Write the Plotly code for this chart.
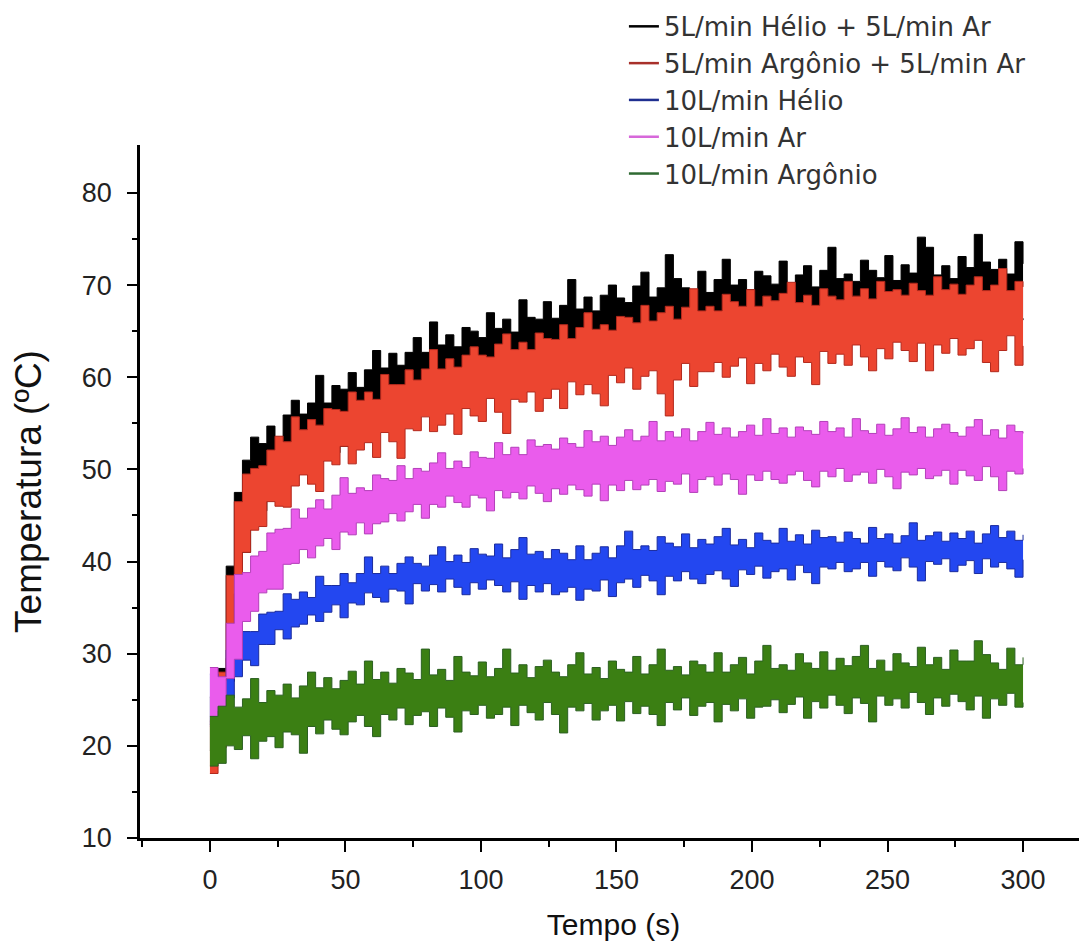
import plotly.graph_objects as go

# sampling step of the traced envelopes (seconds)
time_step = 3

series_names = [
    "5L/min Hélio + 5L/min Ar",
    "5L/min Argônio + 5L/min Ar",
    "10L/min Hélio",
    "10L/min Ar",
    "10L/min Argônio",
]

# upper / lower envelopes of each noisy temperature record (°C), read every 3 s
black_upper = [25.3, 28.4, 39.5, 47.5, 51.0, 53.5, 52.8, 54.7, 53.5, 55.9,
               57.5, 56.0, 57.2, 60.2, 57.2, 59.1, 58.7, 60.5, 58.9, 60.8,
               62.9, 61.0, 62.6, 61.3, 62.7, 64.3, 62.7, 66.0, 63.5, 64.6,
               63.3, 65.4, 65.0, 64.3, 67.0, 65.3, 66.3, 64.9, 68.4, 66.5,
               66.3, 68.2, 66.4, 67.8, 70.6, 67.4, 68.7, 67.2, 68.9, 70.0,
               68.6, 68.1, 69.9, 71.4, 68.7, 69.7, 73.3, 70.7, 69.7, 69.4,
               71.5, 69.2, 70.6, 72.8, 70.0, 70.6, 69.5, 71.5, 71.0, 70.1,
               72.6, 70.1, 71.1, 72.1, 69.8, 71.6, 74.1, 70.7, 71.2, 70.4,
               72.7, 71.6, 70.8, 73.2, 70.5, 72.2, 71.3, 75.2, 74.1, 71.1,
               72.1, 70.7, 73.1, 71.9, 75.5, 72.5, 71.7, 72.8, 71.2, 74.7,
               72.3]
black_lower = [19.5, 21.0, 27.0, 35.0, 41.0, 45.0, 45.5, 47.2, 48.0, 48.6,
               49.5, 49.8, 50.6, 50.9, 51.6, 51.8, 52.5, 52.6, 53.4, 53.5,
               54.2, 54.4, 55.1, 55.2, 56.0, 56.1, 56.7, 56.8, 57.5, 57.4,
               58.0, 58.1, 58.6, 58.5, 59.1, 59.0, 59.5, 59.4, 60.0, 59.9,
               60.3, 60.3, 60.8, 60.6, 61.2, 61.0, 61.6, 61.4, 62.0, 61.9,
               62.3, 62.3, 62.6, 62.5, 63.0, 62.8, 63.2, 63.1, 63.6, 63.4,
               63.8, 63.7, 64.1, 63.9, 64.3, 64.2, 64.5, 64.3, 64.6, 64.4,
               64.7, 64.6, 64.8, 64.7, 65.0, 64.9, 65.1, 65.0, 65.3, 65.1,
               65.4, 65.3, 65.5, 65.4, 65.6, 65.5, 65.7, 65.6, 65.8, 65.7,
               65.9, 65.8, 66.0, 65.9, 66.1, 66.0, 66.2, 66.1, 66.3, 66.2,
               66.4]
red_upper = [22.7, 28.0, 38.5, 46.5, 49.5, 50.1, 50.4, 52.1, 53.6, 53.0,
             55.7, 54.3, 55.4, 54.8, 56.6, 56.5, 56.3, 58.4, 57.5, 58.4,
             57.6, 60.3, 59.2, 59.2, 60.8, 59.7, 60.9, 63.0, 60.9, 62.0,
             61.1, 62.4, 63.3, 62.4, 62.2, 63.6, 64.7, 63.0, 63.8, 63.0,
             64.8, 64.2, 64.1, 65.7, 64.2, 65.4, 67.0, 65.2, 65.7, 65.1,
             66.6, 66.5, 65.9, 67.8, 66.1, 67.0, 67.7, 66.3, 67.6, 69.6,
             67.2, 67.7, 67.2, 69.0, 68.2, 67.7, 69.5, 67.7, 68.8, 68.3,
             69.1, 70.3, 68.1, 68.9, 67.8, 69.6, 68.8, 68.4, 70.4, 68.8,
             69.6, 68.5, 70.4, 69.3, 69.5, 68.9, 70.2, 69.4, 68.9, 70.9,
             69.5, 70.1, 69.0, 70.0, 70.9, 69.4, 70.0, 71.8, 69.4, 70.4,
             69.8]
red_lower = [17.0, 19.8, 29.5, 36.5, 41.0, 43.4, 43.8, 46.5, 46.0, 45.9,
             48.2, 49.4, 48.4, 47.6, 50.9, 50.5, 52.5, 50.6, 52.1, 52.9,
             51.3, 54.0, 53.0, 51.2, 54.4, 54.2, 55.7, 54.1, 54.8, 56.0,
             53.8, 56.6, 55.8, 55.2, 57.7, 56.2, 53.9, 57.6, 57.3, 58.4,
             56.3, 57.7, 58.7, 56.6, 59.5, 58.1, 59.2, 58.2, 56.9, 60.2,
             59.4, 61.0, 58.7, 60.1, 60.7, 58.2, 55.8, 59.7, 61.5, 59.0,
             60.6, 60.6, 61.6, 60.0, 61.2, 62.1, 59.3, 61.5, 60.7, 62.5,
             61.1, 60.1, 62.2, 61.6, 59.2, 62.8, 61.5, 62.5, 61.3, 63.5,
             62.2, 60.7, 63.1, 62.0, 63.8, 62.9, 61.7, 63.7, 60.7, 63.5,
             62.6, 64.2, 62.4, 63.1, 64.0, 61.6, 60.6, 62.9, 64.5, 61.3,
             63.4]
blue_upper = [27.8, 27.1, 30.4, 30.3, 32.4, 32.4, 34.3, 34.5, 34.6, 36.5,
              35.9, 36.7, 36.1, 38.4, 37.4, 37.4, 38.7, 37.7, 38.7, 40.5,
              38.7, 39.5, 38.7, 39.8, 40.5, 39.8, 39.5, 40.7, 41.6, 40.0,
              40.7, 39.9, 41.4, 40.8, 40.6, 41.9, 40.4, 41.3, 42.6, 40.8,
              41.1, 40.3, 41.3, 40.9, 40.2, 41.7, 40.2, 40.9, 41.6, 40.4,
              41.7, 43.3, 41.3, 41.7, 41.2, 42.7, 42.0, 41.6, 43.0, 41.5,
              42.4, 41.9, 42.7, 43.6, 41.8, 42.4, 41.5, 43.1, 42.3, 42.0,
              43.6, 42.2, 42.9, 41.9, 43.4, 42.6, 42.7, 42.1, 43.2, 42.5,
              42.0, 43.7, 42.5, 43.0, 42.0, 42.8, 44.2, 42.3, 42.8, 43.2,
              42.2, 43.1, 42.5, 43.3, 42.0, 43.0, 43.9, 42.6, 43.3, 42.3,
              42.9]
blue_lower = [22.3, 24.7, 25.2, 27.5, 29.3, 28.7, 31.0, 31.0, 32.6, 31.6,
              32.9, 33.2, 34.2, 33.5, 34.5, 35.3, 33.9, 35.5, 35.3, 36.6,
              36.1, 35.6, 37.0, 36.8, 35.4, 37.6, 36.8, 37.5, 36.7, 38.1,
              37.2, 36.4, 37.7, 37.0, 38.0, 37.4, 36.7, 37.8, 35.9, 37.4,
              36.7, 37.6, 36.4, 36.7, 37.2, 35.8, 37.0, 36.8, 38.0, 36.2,
              37.7, 38.1, 37.2, 38.5, 37.9, 36.4, 38.4, 37.9, 38.9, 38.1,
              37.6, 38.6, 39.0, 38.1, 37.3, 39.1, 38.6, 39.5, 38.2, 38.9,
              39.2, 38.0, 39.6, 38.8, 37.6, 39.4, 39.2, 39.9, 38.9, 39.2,
              39.9, 38.4, 40.0, 39.4, 39.0, 40.4, 39.4, 37.9, 40.0, 39.7,
              40.3, 38.9, 39.6, 40.1, 38.7, 40.3, 39.4, 39.9, 39.2, 38.3,
              40.2]
magenta_upper = [28.5, 27.5, 33.3, 38.6, 38.8, 40.6, 41.1, 43.1, 43.5, 43.6,
                 45.7, 44.7, 45.8, 46.7, 45.7, 47.2, 49.1, 47.4, 48.0, 47.7,
                 49.4, 49.0, 48.8, 50.4, 49.0, 50.1, 49.8, 50.7, 51.8, 50.1,
                 50.9, 50.2, 51.9, 51.3, 51.2, 52.9, 51.6, 52.4, 51.6, 53.2,
                 52.5, 52.7, 52.2, 53.4, 52.8, 52.4, 54.2, 53.0, 53.6, 52.6,
                 53.5, 54.3, 53.1, 53.6, 55.2, 53.1, 54.1, 53.5, 54.4, 53.1,
                 54.1, 55.1, 53.8, 54.5, 53.5, 54.1, 54.8, 53.7, 55.5, 53.9,
                 54.5, 53.5, 54.6, 54.2, 53.8, 55.2, 54.1, 54.5, 53.5, 55.5,
                 54.2, 53.9, 54.9, 53.7, 54.4, 55.6, 54.0, 54.6, 53.5, 54.4,
                 54.9, 54.0, 53.6, 54.6, 55.4, 53.7, 54.3, 53.4, 54.8, 54.1,
                 53.9]
magenta_lower = [22.1, 23.8, 27.3, 29.4, 33.5, 34.6, 36.6, 37.0, 37.0, 39.7,
                 39.8, 41.3, 40.4, 41.7, 42.5, 41.3, 43.2, 42.9, 44.2, 43.0,
                 44.1, 44.3, 45.2, 44.4, 45.4, 46.2, 44.7, 46.2, 45.9, 47.1,
                 46.4, 45.9, 47.2, 46.9, 45.5, 47.7, 46.9, 47.5, 46.8, 48.2,
                 47.4, 46.5, 47.9, 47.3, 48.3, 47.8, 47.1, 48.4, 46.6, 48.3,
                 47.7, 48.8, 47.8, 48.3, 48.9, 47.6, 48.7, 48.4, 49.5, 47.5,
                 48.9, 49.2, 48.3, 49.5, 48.9, 47.3, 49.4, 48.8, 49.8, 48.9,
                 48.5, 49.4, 49.8, 48.8, 48.1, 49.8, 49.2, 50.1, 48.7, 49.4,
                 49.7, 48.5, 50.0, 49.2, 47.9, 49.7, 49.4, 50.1, 49.0, 49.3,
                 49.9, 48.4, 49.9, 49.3, 48.8, 50.3, 49.2, 47.7, 49.8, 49.5,
                 50.1]
green_upper = [23.2, 24.3, 25.5, 24.2, 25.1, 27.3, 24.7, 26.0, 25.5, 26.7,
               25.2, 26.5, 28.0, 26.3, 27.4, 26.2, 27.1, 28.1, 26.7, 29.2,
               27.2, 28.0, 26.8, 28.4, 27.9, 27.2, 30.5, 27.7, 28.3, 27.1,
               29.7, 28.0, 27.6, 29.1, 27.5, 28.4, 30.5, 27.9, 28.8, 27.4,
               28.6, 29.3, 28.0, 27.5, 28.8, 30.1, 27.8, 28.5, 27.3, 29.2,
               28.3, 28.0, 29.7, 27.8, 28.8, 30.5, 28.2, 28.6, 27.7, 29.2,
               28.8, 28.0, 30.1, 28.0, 28.8, 29.6, 27.8, 29.2, 30.9, 28.4,
               28.8, 28.2, 30.0, 29.0, 28.4, 30.2, 28.2, 29.5, 28.7, 29.7,
               30.9, 28.4, 29.3, 28.1, 30.0, 29.0, 28.6, 30.7, 28.8, 29.6,
               28.3, 30.4, 29.2, 29.2, 31.4, 29.9, 29.0, 28.3, 30.6, 28.8,
               29.6]
green_lower = [17.8, 18.1, 20.0, 19.6, 21.1, 18.6, 20.5, 21.0, 19.8, 21.5,
               21.2, 19.2, 22.1, 21.3, 22.8, 21.8, 21.2, 22.6, 23.3, 22.1,
               21.0, 23.4, 22.8, 24.1, 22.3, 23.3, 23.7, 22.1, 24.1, 23.1,
               21.5, 23.8, 23.4, 24.4, 23.0, 23.4, 24.2, 22.2, 24.4, 23.6,
               22.8, 24.7, 23.4, 21.4, 24.2, 23.8, 24.6, 22.8, 23.8, 24.4,
               22.7, 24.8, 23.5, 24.3, 23.4, 22.2, 24.7, 23.9, 25.2, 23.3,
               24.3, 24.7, 22.6, 24.5, 23.8, 25.1, 23.0, 24.2, 24.3, 25.0,
               23.6, 24.5, 25.3, 23.0, 24.8, 24.1, 25.5, 24.4, 23.5, 25.2,
               24.6, 22.6, 25.4, 24.4, 25.1, 24.1, 25.8, 24.7, 23.4, 25.2,
               24.3, 25.6, 24.8, 23.9, 25.4, 23.0, 25.1, 24.4, 25.7, 24.2,
               24.7]

x_ticks = [0, 50, 100, 150, 200, 250, 300]
y_ticks = [10, 20, 30, 40, 50, 60, 70, 80]

envelopes = [
    (black_upper, black_lower),
    (red_upper, red_lower),
    (blue_upper, blue_lower),
    (magenta_upper, magenta_lower),
    (green_upper, green_lower),
]
fill_colors = ["#000000", "#ec4530", "#2347f0", "#ea5cec", "#3b7f13"]
edge_colors = ["#000000", "#b3291d", "#1b2c9e", "#b33fb9", "#2b6021"]
legend_colors = ["#000000", "#a8302a", "#1f2f90", "#d768da", "#2f6a32"]

FONT = "Liberation Sans, Arial, sans-serif"
LEG_FONT = "DejaVu Sans, Verdana, sans-serif"


def times(vals):
    return [time_step * i for i in range(len(vals))]


fig = go.Figure()

for k, (up, lo) in enumerate(envelopes):
    fig.add_trace(go.Scatter(
        x=times(lo), y=lo, mode="lines", line_shape="hv",
        line=dict(color=edge_colors[k], width=1),
        showlegend=False, hoverinfo="skip", legendgroup=f"g{k}"))
    fig.add_trace(go.Scatter(
        x=times(up), y=up, mode="lines", line_shape="hv",
        line=dict(color=edge_colors[k], width=1),
        fill="tonexty", fillcolor=fill_colors[k],
        showlegend=False, name=series_names[k], legendgroup=f"g{k}"))

for k, name in enumerate(series_names):
    fig.add_trace(go.Scatter(
        x=[None], y=[None], mode="lines", name=name,
        line=dict(color=legend_colors[k], width=2.5),
        legendgroup=f"g{k}", showlegend=True))

axis_common = dict(
    showline=True, linecolor="black", linewidth=2.5,
    ticks="outside", tickcolor="black", tickwidth=2,
    showgrid=False, zeroline=False, mirror=False,
)

fig.update_xaxes(
    range=[-25.8, 323.6], tickvals=x_ticks, ticklen=11,
    minor=dict(tickvals=[-25, 25, 75, 125, 175, 225, 275], ticks="outside",
               ticklen=6, tickwidth=2, tickcolor="black"),
    tickfont=dict(family=FONT, size=27, color="#222222"),
    ticklabelstandoff=5,
    title=dict(text="Tempo (s)", font=dict(family=FONT, size=30, color="#111111"),
               standoff=20),
    **axis_common)
fig.update_yaxes(
    range=[10, 85.2], tickvals=y_ticks, ticklen=10,
    minor=dict(tickvals=[15, 25, 35, 45, 55, 65, 75], ticks="outside",
               ticklen=5, tickwidth=2, tickcolor="black"),
    tickfont=dict(family=FONT, size=27, color="#222222"),
    ticklabelstandoff=10,
    title=dict(text="Temperatura (ºC)", font=dict(family=FONT, size=37, color="#111111"),
               standoff=31),
    **axis_common)

# the page adds an 8 px body margin, so the figure is 8 px smaller than the window
fig.update_layout(
    width=1079, height=938,
    margin=dict(l=132, r=0, t=137, b=108, autoexpand=False),
    paper_bgcolor="white", plot_bgcolor="white",
    legend=dict(x=0.511, y=1.205, xanchor="left", yanchor="top",
                bgcolor="rgba(0,0,0,0)", borderwidth=0,
                font=dict(family=LEG_FONT, size=26, color="#333333"),
                tracegroupgap=0, traceorder="grouped"),
    font=dict(family=FONT),
)

fig.write_html("out.html")
